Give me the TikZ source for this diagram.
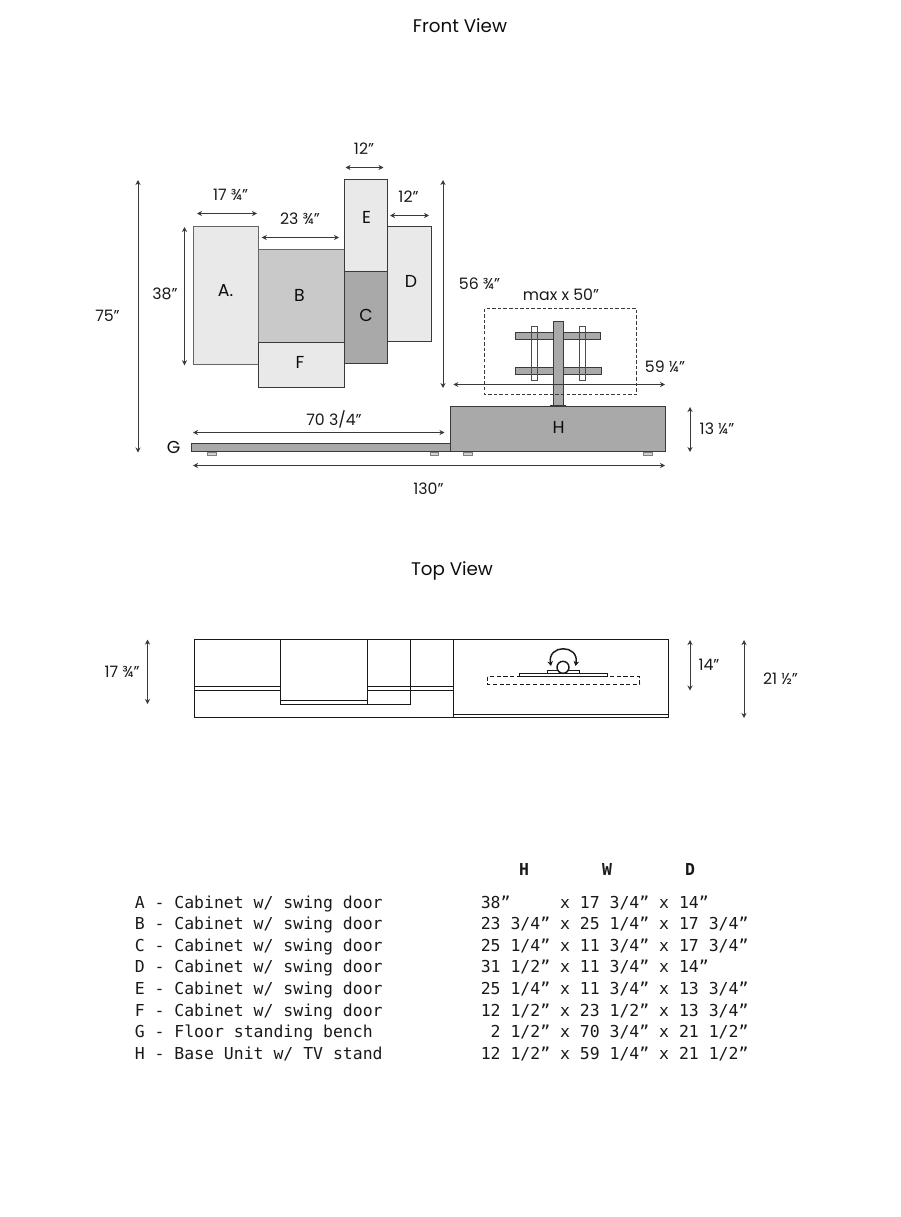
\documentclass[tikz,border=0pt]{standalone}
\usepackage{fontspec}
\setmainfont{Poppins}
\newfontfamily\tablefont{DejaVu Sans Mono}
\usetikzlibrary{arrows.meta}
\definecolor{lightbox}{HTML}{E9E9E9}
\definecolor{midbox}{HTML}{C9C9C9}
\definecolor{darkbox}{HTML}{A9A9A9}
\definecolor{linecol}{HTML}{3A3A3A}
\tikzset{
  boxline/.style={draw=linecol,line width=1pt},
  dimline/.style={draw=linecol,line width=0.6pt,{Stealth[length=3.8pt,width=3.8pt]}-{Stealth[length=3.8pt,width=3.8pt]}},
  lab/.style={font=\fontsize{11.8pt}{13pt}\selectfont,inner sep=0pt,text=black!90},
  title/.style={font=\fontsize{13.7pt}{15pt}\selectfont,inner sep=0pt,text=black!95},
  letter/.style={font=\fontsize{13pt}{14pt}\selectfont,inner sep=0pt,text=black!95},
  foot/.style={draw=black!50,line width=0.5pt,fill=black!18},
  plan/.style={draw=black!90,line width=1.35pt},
  rowtext/.style={font=\tablefont\fontsize{12.35pt}{14pt}\selectfont,anchor=base west,inner sep=0pt,text=black!90},
  headtext/.style={font=\tablefont\bfseries\fontsize{12.35pt}{14pt}\selectfont,anchor=base,inner sep=0pt,text=black!90},
}
\begin{document}
\begin{tikzpicture}[x=0.75pt,y=-0.75pt]
\useasboundingbox (0,0) rectangle (900,1217);
\node[title] (tfront) at (460,26) {Front View};
\node[title] (ttop) at (452,571) {Top View};
% cabinets
\fill[lightbox] (193.5,226.5) rectangle (258.5,364.5);
\draw[draw=black!60,line width=0.55pt] (258.5,364.5) -- (193.5,364.5) -- (193.5,226.5) -- (258.5,226.5) -- (258.5,249.5);
\fill[midbox] (258.5,249.5) rectangle (344.5,342.5);
\draw[draw=black!60,line width=0.55pt] (258.5,249.5) -- (344.5,249.5);
\draw[draw=black!60,line width=0.55pt] (258.5,249.5) -- (258.5,342.5);
\filldraw[fill=darkbox,boxline] (344.5,271.5) rectangle (387.5,363.5);
\filldraw[fill=lightbox,boxline] (344.5,179.5) rectangle (387.5,271.5);
\fill[lightbox] (387.5,226.5) rectangle (431.5,341.5);
\draw[boxline] (387.5,226.5) -- (431.5,226.5) -- (431.5,341.5) -- (387.5,341.5);
\filldraw[fill=lightbox,boxline] (258.5,342.5) rectangle (344.5,387.5);
% bench and base
\filldraw[fill=darkbox,boxline] (191.5,443.5) rectangle (450.5,451.5);
\filldraw[fill=darkbox,boxline] (450.5,406.5) rectangle (665.5,451.5);
\draw[foot] (207.5,452.5) rectangle (216,455);
\draw[foot] (430.5,452.5) rectangle (438.5,455);
\draw[foot] (463,452.5) rectangle (472,455);
\draw[foot] (643.5,452.5) rectangle (652.5,455);
% tv stand
\filldraw[fill=white,draw=black!70,line width=0.5pt] (531.5,326.5) rectangle (537.5,380.5);
\filldraw[fill=white,draw=black!70,line width=0.5pt] (579.5,326.5) rectangle (585.5,380.5);
\filldraw[fill=darkbox,draw=linecol,line width=0.6pt] (515.5,332) rectangle (600.5,339);
\filldraw[fill=darkbox,draw=linecol,line width=0.6pt] (515.5,367.5) rectangle (601.5,374.5);
\draw[draw=black!70,line width=0.5pt] (531.5,326.5) rectangle (537.5,380.5);
\draw[draw=black!70,line width=0.5pt] (579.5,326.5) rectangle (585.5,380.5);
\filldraw[fill=darkbox,draw=linecol,line width=0.6pt] (553,321) rectangle (563.5,406);
\fill[linecol] (550.3,405) rectangle (566,406.5);
\draw[dash pattern=on 2.6pt off 1.6pt,draw=linecol,line width=0.5pt] (484.5,308.5) rectangle (636.5,394.5);
% front dimensions
\coordinate (d1a) at (197,213.5); \coordinate (d1b) at (257,213.5);
\coordinate (d2a) at (261.7,237.5); \coordinate (d2b) at (339,237.5);
\coordinate (d3a) at (345.5,167.5); \coordinate (d3b) at (383.5,167.5);
\coordinate (d4a) at (390,215.5); \coordinate (d4b) at (429,215.5);
\coordinate (d5a) at (184.5,227); \coordinate (d5b) at (184.5,365.3);
\coordinate (d6a) at (138,180); \coordinate (d6b) at (138,452.5);
\coordinate (d7a) at (443,180); \coordinate (d7b) at (443,388);
\coordinate (d8a) at (453.3,384.5); \coordinate (d8b) at (665,384.5);
\coordinate (d9a) at (690,407); \coordinate (d9b) at (690,452);
\coordinate (d10a) at (193,465.5); \coordinate (d10b) at (665,465.5);
\coordinate (d11a) at (193,432.5); \coordinate (d11b) at (444.5,432.5);
\foreach \i in {1,...,11} {\draw[dimline] (d\i a) -- (d\i b);}
% cabinet letters
\node[letter] (la) at (225.5,291) {A.};
\node[letter] (lb) at (299.5,295.5) {B};
\node[letter] (lc) at (366,315.5) {C};
\node[letter] (ld) at (411,281.5) {D};
\node[letter] (le) at (366.5,217.5) {E};
\node[letter] (lf) at (300,362.5) {F};
\node[letter] (lg) at (173.5,447) {G};
\node[letter] (lh) at (558.5,427.5) {H};
% front labels
\node[lab] (n1) at (230.5,194.5) {17 ¾”};
\node[lab] (n2) at (300,218.5) {23 ¾”};
\node[lab] (n3) at (364,148.5) {12”};
\node[lab] (n4) at (408.5,196.5) {12”};
\node[lab] (n5) at (165,293.5) {38”};
\node[lab] (n6) at (107.5,315.5) {75”};
\node[lab] (n7) at (479.5,283.5) {56 ¾”};
\node[lab] (n8) at (561,294.5) {max x 50”};
\node[lab] (n9) at (665,366.5) {59 ¼”};
\node[lab] (n10) at (717,428.5) {13 ¼”};
\node[lab] (n11) at (334,419.5) {70 3/4”};
\node[lab] (n12) at (428.5,489) {130”};
% top view
\draw[plan] (194.5,639.5) rectangle (668.5,717.5);
\draw[plan] (453.5,639.5) -- (453.5,717.5);
\draw[plan] (280.5,639.5) -- (280.5,704.5);
\draw[plan] (367.5,639.5) -- (367.5,704.5);
\draw[plan] (410.5,639.5) -- (410.5,704.5);
\draw[plan] (280.5,704.5) -- (410.5,704.5);
\draw[plan] (280.5,700.5) -- (367.5,700.5);
\draw[plan] (194.5,686.5) -- (280.5,686.5);
\draw[plan] (194.5,690.5) -- (280.5,690.5);
\draw[plan] (367.5,686.5) -- (453.5,686.5);
\draw[plan] (367.5,690.5) -- (453.5,690.5);
\draw[plan] (453.5,714.5) -- (668.5,714.5);
\draw[plan,line width=1.1pt] (519.5,673.5) rectangle (607.5,676.5);
\draw[plan,line width=1.1pt] (547.5,673.5) -- (547.5,670.5) -- (579.5,670.5) -- (579.5,673.5);
\draw[plan,line width=1.1pt,dash pattern=on 3.2pt off 1.8pt] (487.5,676.5) rectangle (639.5,684.5);
\filldraw[fill=white,draw=black!90,line width=1.1pt] (563,667.3) circle (6);
\coordinate (rotl) at (551,666);
\coordinate (rotr) at (575.5,666);
\draw[draw=black!90,line width=1.1pt,{Stealth[length=3.6pt,width=4.2pt]}-{Stealth[length=3.6pt,width=4.2pt]}] (rotl) .. controls (547,644) and (579.5,644) .. (rotr);
% top dimensions
\coordinate (t1a) at (147.5,639.5); \coordinate (t1b) at (147.5,704);
\coordinate (t2a) at (690,640); \coordinate (t2b) at (690,690.5);
\coordinate (t3a) at (744,640); \coordinate (t3b) at (744,718);
\foreach \i in {1,2,3} {\draw[dimline] (t\i a) -- (t\i b);}
\node[lab] (m1) at (122,671.5) {17 ¾”};
\node[lab] (m2) at (709,664.5) {14”};
\node[lab] (m3) at (780.5,679) {21 ½”};
% table
\node[headtext] (hh) at (524,875) {H};
\node[headtext] (hw) at (607,875) {W};
\node[headtext] (hd) at (690,875) {D};
\node[rowtext] (ra) at (134.5,908) {A - Cabinet w/ swing door};
\node[rowtext] (rb) at (134.5,929.6) {B - Cabinet w/ swing door};
\node[rowtext] (rc) at (134.5,951.2) {C - Cabinet w/ swing door};
\node[rowtext] (rd) at (134.5,972.8) {D - Cabinet w/ swing door};
\node[rowtext] (re) at (134.5,994.4) {E - Cabinet w/ swing door};
\node[rowtext] (rf) at (134.5,1016) {F - Cabinet w/ swing door};
\node[rowtext] (rg) at (134.5,1037.6) {G - Floor standing bench};
\node[rowtext] (rh) at (134.5,1059.2) {H - Base Unit w/ TV stand};
\node[rowtext] (sa) at (480.5,908) {38”~~~~~x 17 3/4” x 14”};
\node[rowtext] (sb) at (480.5,929.6) {23 3/4” x 25 1/4” x 17 3/4”};
\node[rowtext] (sc) at (480.5,951.2) {25 1/4” x 11 3/4” x 17 3/4”};
\node[rowtext] (sd) at (480.5,972.8) {31 1/2” x 11 3/4” x 14”};
\node[rowtext] (se) at (480.5,994.4) {25 1/4” x 11 3/4” x 13 3/4”};
\node[rowtext] (sf) at (480.5,1016) {12 1/2” x 23 1/2” x 13 3/4”};
\node[rowtext] (sg) at (480.5,1037.6) {~2 1/2” x 70 3/4” x 21 1/2”};
\node[rowtext] (sh) at (480.5,1059.2) {12 1/2” x 59 1/4” x 21 1/2”};
\end{tikzpicture}
\end{document}
